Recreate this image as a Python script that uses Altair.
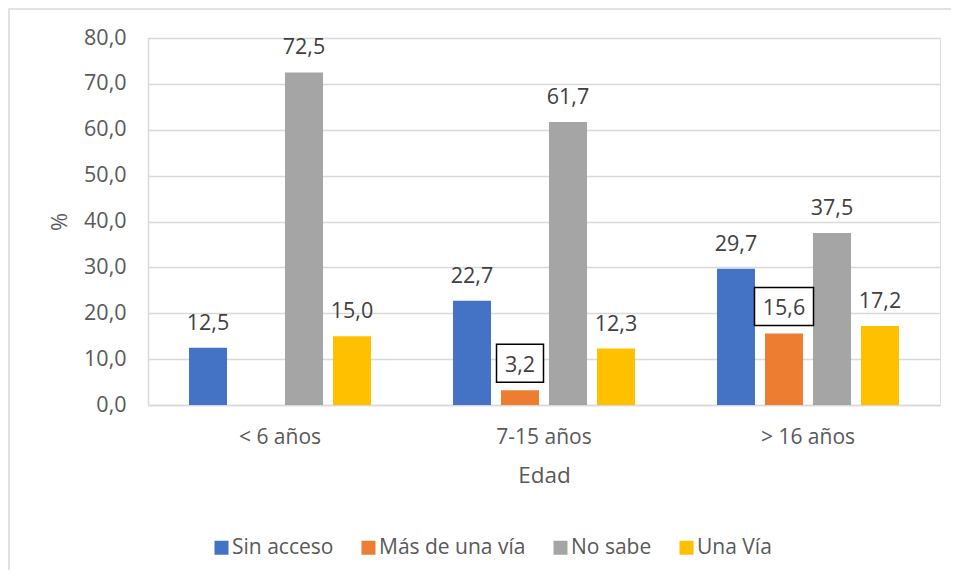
import altair as alt
import pandas as pd

categories = ["< 6 años", "7-15 años", "> 16 años"]
series = ["Sin acceso", "Más de una vía", "No sabe", "Una Vía"]
colors = ["#4472C4", "#ED7D31", "#A5A5A5", "#FFC000"]

sin_acceso = [12.5, 22.7, 29.7]
mas_de_una_via = [None, 3.2, 15.6]
no_sabe = [72.5, 61.7, 37.5]
una_via = [15.0, 12.3, 17.2]

boxed = [("7-15 años", "Más de una vía", 47), ("> 16 años", "Más de una vía", 59)]

rows = []
for s, vals in zip(series, [sin_acceso, mas_de_una_via, no_sabe, una_via]):
    for c, v in zip(categories, vals):
        if v is not None:
            rows.append({"Edad": c, "serie": s, "valor": v})
df = pd.DataFrame(rows)

FONT = "Open Sans"
W, H = 792, 367
PAD = {"left": 140, "top": 30, "right": 11, "bottom": 165}

x_enc = alt.X("Edad:N", sort=categories,
              scale=alt.Scale(paddingInner=0, paddingOuter=0),
              axis=alt.Axis(title="Edad", labelAngle=0, ticks=False, tickSize=0,
                            labelPadding=21, titlePadding=17,
                            labelFontSize=21, titleFontSize=22.5,
                            labelColor="#595959", titleColor="#595959",
                            titleFontWeight="normal",
                            domainColor="#D9D9D9", domainWidth=1.5,
                            labelFont=FONT, titleFont=FONT))
xoff = alt.XOffset("serie:N", sort=series,
                   scale=alt.Scale(domain=series, paddingInner=0.208, paddingOuter=0.854))
y_enc = alt.Y("valor:Q",
              scale=alt.Scale(domain=[0, 80], nice=False),
              axis=alt.Axis(title="%", values=[0, 10, 20, 30, 40, 50, 60, 70, 80],
                            labelExpr="replace(format(datum.value, '.1f'), '.', ',')",
                            ticks=False, tickSize=0, labelPadding=22, titlePadding=12,
                            labelFontSize=21.5, titleFontSize=22,
                            labelColor="#595959", titleColor="#595959",
                            titleFontWeight="normal",
                            gridColor="#D9D9D9", gridWidth=1.3,
                            domainColor="#D9D9D9", domainWidth=1.5,
                            labelFont=FONT, titleFont=FONT))

base = alt.Chart(df)

bars = base.mark_bar().encode(
    x=x_enc, xOffset=xoff, y=y_enc,
    color=alt.Color("serie:N", sort=series,
                    scale=alt.Scale(domain=series, range=colors),
                    legend=alt.Legend(title=None, orient="none", direction="horizontal",
                                      legendX=63, legendY=499,
                                      symbolType="square", symbolSize=196,
                                      symbolStrokeWidth=0,
                                      labelFontSize=21, labelColor="#595959",
                                      labelFont=FONT, labelOffset=0,
                                      columnPadding=24, padding=0)),
)

box_layers = []
for c, s, w in boxed:
    box_layers.append(
        base.transform_filter(
            (alt.datum.Edad == c) & (alt.datum.serie == s)
        ).mark_bar(fill="white", stroke="black", strokeWidth=1.5, width=w,
                   yOffset=-8, y2Offset=-46).encode(
            x=alt.X("Edad:N", sort=categories), xOffset=xoff,
            y=alt.Y("valor:Q"), y2=alt.Y2("valor")
        )
    )

labels = base.transform_calculate(
    lab="replace(format(datum.valor, '.1f'), '.', ',')"
).mark_text(baseline="alphabetic", dy=-18, fontSize=21.5, color="#404040", font=FONT).encode(
    x=alt.X("Edad:N", sort=categories), xOffset=xoff, y=alt.Y("valor:Q"), text="lab:N"
)

border = alt.Chart(pd.DataFrame({"a": [0]})).mark_rect(
    fill=None, stroke="#D9D9D9", strokeWidth=1.5
).encode(
    x=alt.value(-139), x2=alt.value(W + 40), y=alt.value(-29), y2=alt.value(H + 220)
)

chart = alt.layer(border, bars, *box_layers, labels).properties(
    width=W, height=H,
    autosize=alt.AutoSizeParams(type="none"),
    padding=PAD,
).configure_view(stroke="#D9D9D9", strokeWidth=1.5).configure(background="white")

chart.save("out.html", embed_options={"renderer": "svg", "actions": False})
